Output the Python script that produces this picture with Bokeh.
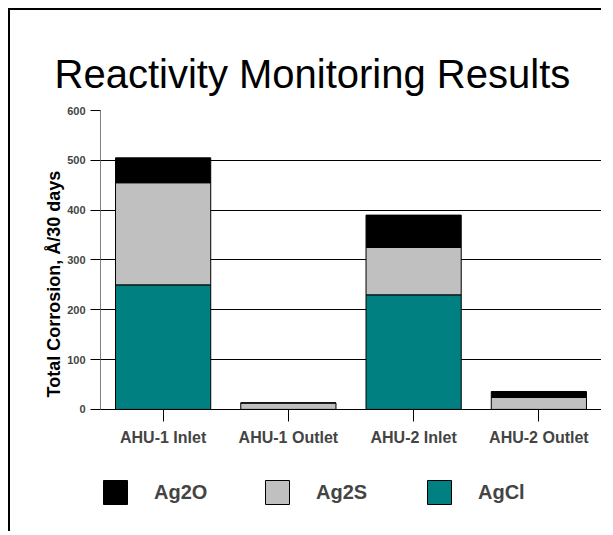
from bokeh.plotting import figure
from bokeh.models import FactorRange, Range1d, Legend, LegendItem, Title, FixedTicker
from bokeh.embed import file_html
from bokeh.resources import INLINE

categories = ["AHU-1 Inlet", "AHU-1 Outlet", "AHU-2 Inlet", "AHU-2 Outlet"]
agcl = [250, 0, 230, 0]
ag2s = [205, 13, 95, 24]
ag2o = [50, 0, 65, 12]
series = ["AgCl", "Ag2S", "Ag2O"]
colors = ["#008080", "#C0C0C0", "#000000"]
y_ticks = [0, 100, 200, 300, 400, 500, 600]

data = {"cat": categories, "AgCl": agcl, "Ag2S": ag2s, "Ag2O": ag2o}

# the frame extends below zero so that the legend can sit under the category labels
p = figure(x_range=FactorRange(*categories, range_padding=0), y_range=Range1d(-233, 600),
           width=593, height=523, output_backend="svg", toolbar_location=None,
           min_border_left=90, min_border_right=2, min_border_top=100, min_border_bottom=8)
p.styles = {"border-top": "2px solid #000", "border-left": "2px solid #000",
            "margin-top": "8px", "margin-left": "8px"}

rs = p.vbar_stack(series, x="cat", width=0.76, color=colors, line_color="#000000",
                  line_width=1, source=data)

FONT = "Liberation Sans"
p.title = Title(text="Reactivity Monitoring Results", text_font=FONT, text_font_size="40px",
                text_font_style="normal", align="left", offset=-46, text_color="#000000",
                standoff=30)

p.outline_line_color = None
p.xgrid.grid_line_color = None
p.ygrid.grid_line_color = "#000000"
p.ygrid.grid_line_width = 1
p.yaxis.ticker = FixedTicker(ticks=y_ticks)
p.yaxis.bounds = (0, 600)
p.yaxis.axis_line_color = "#808080"
p.yaxis.major_tick_line_color = "#000000"
p.yaxis.major_tick_out = 10
p.yaxis.major_tick_in = 0
p.yaxis.minor_tick_line_color = None
p.yaxis.major_label_text_font = FONT
p.yaxis.major_label_text_font_style = "bold"
p.yaxis.major_label_text_font_size = "11px"
p.yaxis.major_label_standoff = 5

# y-axis title as a side title so it can be placed along the 0-600 scale
ylab = Title(text="Total Corrosion, Å/30 days", text_font=FONT, text_font_size="18px",
             text_font_style="bold", align="left", offset=128, standoff=2,
             text_color="#000000")
p.add_layout(ylab, "left")

p.xaxis.fixed_location = 0
p.xaxis.axis_line_color = "#000000"
p.xaxis.major_tick_line_color = "#000000"
p.xaxis.major_tick_out = 12
p.xaxis.major_tick_in = 0
p.xaxis.major_label_text_font = FONT
p.xaxis.major_label_text_font_style = "bold"
p.xaxis.major_label_text_font_size = "16px"
p.xaxis.major_label_standoff = 8

items = [LegendItem(label=series[i], renderers=[rs[i]]) for i in [2, 1, 0]]
legend = Legend(items=items, orientation="horizontal", location=(0, 18),
                glyph_width=30, glyph_height=30, label_standoff=24, label_width=108,
                spacing=0, padding=0, margin=0, border_line_color=None,
                background_fill_alpha=0, label_text_font=FONT, label_text_font_style="bold",
                label_text_font_size="20px")
p.add_layout(legend, "center")

open("out.html", "w").write(file_html(p, INLINE))
